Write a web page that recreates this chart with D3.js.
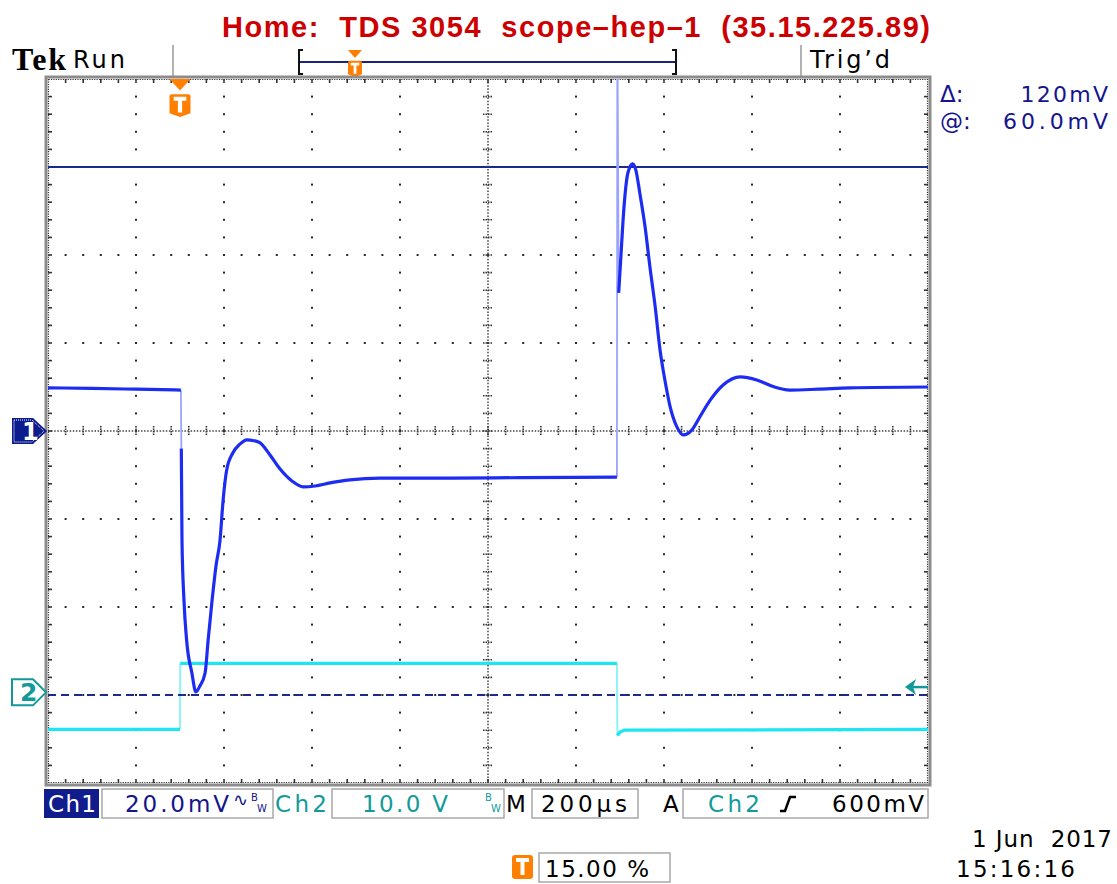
<!DOCTYPE html>
<html>
<head>
<meta charset="utf-8">
<script src="https://cdn.jsdelivr.net/npm/d3@7"></script>
<style>
body { margin: 0; background: #fff; }
svg { display: block; }
</style>
</head>
<body>
<div id="scope"></div>
<script>
// Timebase: microseconds from trigger, 200 us/div, trigger at 15% of record
var timeDomain = [-300, 1700];

// Ch1 (20.0 mV/div), points are [time us, mV]
var ch1Scale = 20;
var ch1Position = 0;
var ch1Before = [[-300, 9.8], [-200, 9.7], [-100, 9.5], [2, 9.3]];
var ch1Fall = [[2, 9.3], [3, -4.0]];
var ch1Mid = [[3, -4.0], [4.5, -24.8], [9, -38.4], [15, -47.5], [27, -55], [36, -59.3], [45, -58],
  [57, -55], [64, -47.5], [73, -38.4], [82, -30.5], [91, -24.8], [98, -15.7], [106, -8.9],
  [120, -5.0], [136, -3.0], [152, -2.0], [168, -2.2], [182, -2.7], [205, -5.5], [227, -8.6],
  [255, -11.4], [280, -12.7], [307, -12.5], [341, -11.8], [386, -11.1], [455, -10.7],
  [614, -10.7], [773, -10.6], [993, -10.5]];
var ch1Rise = [[993, -10.5], [994, 95], [997, 31.4]];
var ch1After = [[997, 31.4], [1002, 39.6], [1007, 48], [1015, 57], [1023, 60.1], [1029, 60.7],
  [1036, 59.3], [1045, 54.1], [1057, 46.4], [1068, 37.3], [1080, 28.2], [1091, 18.4],
  [1102, 11.6], [1114, 5.5], [1129, 1.0], [1144, -0.9], [1163, 0.2], [1182, 3.3], [1205, 7.0],
  [1235, 10.5], [1273, 12.3], [1311, 11.6], [1348, 10.1], [1386, 9.3], [1450, 9.5],
  [1523, 9.8], [1700, 10.0]];

// Ch2 (10.0 V/div), points are [time us, V]
var ch2Scale = 10;
var ch2Position = -2.97;
var ch2Before = [[-300, -4.2], [0, -4.2]];
var ch2Rise = [[0, -4.2], [0.5, 3.3]];
var ch2High = [[0.5, 3.3], [993, 3.3]];
var ch2Fall = [[993, 3.3], [994, -4.9]];
var ch2After = [[994, -4.9], [1000, -4.5], [1010, -4.3], [1700, -4.2]];

// H-bar cursors on ch1 (mV), trigger level on ch2 (V)
var cursorLevels = [60, -60];
var triggerLevel = 0.6;

// readout texts
var titleText = "Home:  TDS 3054  scope\u2013hep\u20131  (35.15.225.89)";
var cursorLabels = [["\u0394:", "120mV"], ["@:", "60.0mV"]];

var width = 1117, height = 884;
var grat = {left: 48, right: 928, top: 79, bottom: 783};

var svg = d3.select("#scope").append("svg")
  .attr("width", width)
  .attr("height", height);

svg.append("rect").attr("width", width).attr("height", height).attr("fill", "#fff");

var xScale = d3.scaleLinear().domain(timeDomain).range([grat.left, grat.right]);
var yScale = d3.scaleLinear().domain([-4, 4]).range([grat.bottom, grat.top]);
var xDiv = d3.scaleLinear().domain([0, 10]).range([grat.left, grat.right]);

function ch1Y(v) { return yScale(v / ch1Scale + ch1Position); }
function ch2Y(v) { return yScale(v / ch2Scale + ch2Position); }

var line1 = d3.line().x(function(d) { return xScale(d[0]); }).y(function(d) { return ch1Y(d[1]); });
var smooth1 = d3.line().curve(d3.curveMonotoneX)
  .x(function(d) { return xScale(d[0]); }).y(function(d) { return ch1Y(d[1]); });
var line2 = d3.line().x(function(d) { return xScale(d[0]); }).y(function(d) { return ch2Y(d[1]); });

function label(g, x, y, text, o) {
  o = o || {};
  var t = g.append("text")
    .attr("x", x).attr("y", y)
    .attr("fill", o.color || "#000")
    .attr("font-family", o.family || "'DejaVu Sans', sans-serif")
    .attr("font-size", o.size || 22)
    .attr("font-weight", o.weight || "normal")
    .attr("text-anchor", o.anchor || "start")
    .style("white-space", "pre")
    .text(text);
  if (o.len) t.attr("textLength", o.len).attr("lengthAdjust", "spacing");
  return t;
}

// ---- header ----
var head = svg.append("g");
label(head, 576, 37, titleText, {size: 29, weight: "bold", color: "#cc0000", anchor: "middle",
  family: "'Liberation Sans', Arial, sans-serif", len: 708});
label(head, 12, 70, "Tek", {size: 32, weight: "bold", family: "'Liberation Serif', serif", len: 54});
label(head, 73, 68, "Run", {size: 24, len: 52});
label(head, 810, 68, "Trig\u2019d", {size: 24, len: 80});

head.selectAll(".sep").data([173, 801]).enter().append("line")
  .attr("x1", function(d) { return d; }).attr("x2", function(d) { return d; })
  .attr("y1", 45).attr("y2", 77)
  .attr("stroke", "#999").attr("stroke-width", 1.5);

// record bar
head.append("line").attr("x1", 299).attr("x2", 676).attr("y1", 62).attr("y2", 62)
  .attr("stroke", "#1a237e").attr("stroke-width", 2);
head.append("path").attr("d", "M303,50 H299 V74 H303").attr("fill", "none").attr("stroke", "#111").attr("stroke-width", 2);
head.append("path").attr("d", "M672,50 H676 V74 H672").attr("fill", "none").attr("stroke", "#111").attr("stroke-width", 2);

function trigMarker(g, cx, top, w, h) {
  g.append("path")
    .attr("d", "M" + (cx - w / 2) + "," + top + " H" + (cx + w / 2) + " L" + cx + "," + (top + h * 0.3) + " Z")
    .attr("fill", "#ff8000");
  var sy = top + h * 0.4;
  g.append("path")
    .attr("d", "M" + (cx - w / 2) + "," + (sy + 2) + " Q" + (cx - w / 2) + "," + sy + " " + (cx - w / 2 + 2) + "," + sy +
      " H" + (cx + w / 2 - 2) + " Q" + (cx + w / 2) + "," + sy + " " + (cx + w / 2) + "," + (sy + 2) +
      " V" + (top + h * 0.9) + " L" + cx + "," + (top + h) + " L" + (cx - w / 2) + "," + (top + h * 0.9) + " Z")
    .attr("fill", "#ff8000");
  g.append("path")
    .attr("d", "M" + (cx - w * 0.3) + "," + (sy + h * 0.12) + " H" + (cx + w * 0.3) +
      " M" + cx + "," + (sy + h * 0.12) + " V" + (top + h * 0.88))
    .attr("stroke", "#fff").attr("stroke-width", w * 0.2).attr("fill", "none");
}
trigMarker(head, 355, 50, 14, 27);

// ---- graticule ----
var grid = svg.append("g");
var dots = [];
d3.range(1, 10).filter(function(k) { return k != 5; }).forEach(function(k) {
  d3.range(1, 40).forEach(function(m) { dots.push([xDiv(k), yScale(-4 + m * 0.2)]); });
});
d3.range(-3, 4).filter(function(j) { return j != 0; }).forEach(function(j) {
  d3.range(1, 50).forEach(function(n) { dots.push([xDiv(n * 0.2), yScale(j)]); });
});
grid.selectAll(".dot").data(dots).enter().append("rect")
  .attr("x", function(d) { return d[0] - 1; })
  .attr("y", function(d) { return d[1] - 1; })
  .attr("width", 2).attr("height", 2)
  .attr("fill", "#2a2a2a");

// center axes
var x0 = xDiv(5), y0 = yScale(0);
grid.append("line").attr("x1", grat.left).attr("x2", grat.right).attr("y1", y0).attr("y2", y0)
  .attr("stroke", "#444").attr("stroke-width", 1.5).attr("stroke-dasharray", "1.5,1.6");
grid.append("line").attr("x1", x0).attr("x2", x0).attr("y1", grat.top).attr("y2", grat.bottom)
  .attr("stroke", "#444").attr("stroke-width", 1.5).attr("stroke-dasharray", "1.5,1.6");

var xTicks = d3.range(1, 50).map(function(n) { return xDiv(n * 0.2); });
var yTicks = d3.range(1, 40).map(function(m) { return yScale(-4 + m * 0.2); });

grid.selectAll(".hx").data(xTicks).enter().append("line")
  .attr("x1", function(d) { return d; }).attr("x2", function(d) { return d; })
  .attr("y1", y0 - 5).attr("y2", y0 + 5)
  .attr("stroke", "#333").attr("stroke-width", 1.6).attr("stroke-dasharray", "1.5,1");
grid.selectAll(".vy").data(yTicks).enter().append("line")
  .attr("y1", function(d) { return d; }).attr("y2", function(d) { return d; })
  .attr("x1", x0 - 5).attr("x2", x0 + 5)
  .attr("stroke", "#333").attr("stroke-width", 1.6).attr("stroke-dasharray", "1.5,1");

// frame with edge ticks
grid.append("rect")
  .attr("x", grat.left - 2).attr("y", grat.top - 2)
  .attr("width", grat.right - grat.left + 4).attr("height", grat.bottom - grat.top + 4)
  .attr("fill", "none").attr("stroke", "#8c8c8c").attr("stroke-width", 3);
grid.append("rect")
  .attr("x", grat.left + 0.5).attr("y", grat.top + 0.5)
  .attr("width", grat.right - grat.left - 1).attr("height", grat.bottom - grat.top - 1)
  .attr("fill", "none").attr("stroke", "#333").attr("stroke-width", 1.2).attr("stroke-dasharray", "1.2,1.2");
var edge = grid.append("g").attr("stroke", "#333").attr("stroke-width", 1.6);
xTicks.forEach(function(x) {
  edge.append("line").attr("x1", x).attr("x2", x).attr("y1", grat.top).attr("y2", grat.top + 4);
  edge.append("line").attr("x1", x).attr("x2", x).attr("y1", grat.bottom).attr("y2", grat.bottom - 4);
});
yTicks.forEach(function(y) {
  edge.append("line").attr("y1", y).attr("y2", y).attr("x1", grat.left).attr("x2", grat.left + 4);
  edge.append("line").attr("y1", y).attr("y2", y).attr("x1", grat.right).attr("x2", grat.right - 4);
});

// ---- traces ----
svg.append("defs").append("clipPath").attr("id", "clip")
  .append("rect")
  .attr("x", grat.left).attr("y", grat.top)
  .attr("width", grat.right - grat.left).attr("height", grat.bottom - grat.top);

var traces = svg.append("g").attr("clip-path", "url(#clip)");

// ch2
[ch2Rise, ch2Fall].forEach(function(seg) {
  traces.append("path").attr("d", line2(seg)).attr("fill", "none")
    .attr("stroke", "#8ff2f6").attr("stroke-width", 2);
});
[ch2Before, ch2High, ch2After].forEach(function(seg) {
  traces.append("path").attr("d", line2(seg)).attr("fill", "none")
    .attr("stroke", "#1ee6f0").attr("stroke-width", 3.2);
});

// cursors
traces.append("line")
  .attr("x1", grat.left).attr("x2", grat.right)
  .attr("y1", ch1Y(cursorLevels[0])).attr("y2", ch1Y(cursorLevels[0]))
  .attr("stroke", "#1c2a8e").attr("stroke-width", 2);
traces.append("line")
  .attr("x1", grat.left).attr("x2", grat.right)
  .attr("y1", ch1Y(cursorLevels[1])).attr("y2", ch1Y(cursorLevels[1]))
  .attr("stroke", "#1c2a8e").attr("stroke-width", 2).attr("stroke-dasharray", "8,5");

// ch1
[ch1Fall, ch1Rise].forEach(function(seg) {
  traces.append("path").attr("d", line1(seg)).attr("fill", "none")
    .attr("stroke", "#9aa4ff").attr("stroke-width", 1.8);
});
[ch1Before, ch1Mid, ch1After].forEach(function(seg) {
  traces.append("path").attr("d", smooth1(seg)).attr("fill", "none")
    .attr("stroke", "#1d2cf2").attr("stroke-width", 3.2).attr("stroke-linejoin", "round");
});

// trigger position marker
trigMarker(svg, xScale(0), grat.top, 21, 38);

// trigger level arrow on right edge
var ty = ch2Y(triggerLevel);
svg.append("path")
  .attr("d", "M905," + ty + " L916," + (ty - 8) + " L913," + ty + " L916," + (ty + 8) + " Z")
  .attr("fill", "#129a9a");
svg.append("line").attr("x1", 912).attr("x2", grat.right).attr("y1", ty).attr("y2", ty)
  .attr("stroke", "#129a9a").attr("stroke-width", 2.5);

// channel ground markers
var m1 = ch1Y(0), m2 = ch2Y(0);
svg.append("path")
  .attr("d", "M12," + (m1 - 13) + " H33 L47," + m1 + " L33," + (m1 + 13) + " H12 Z")
  .attr("fill", "#0c1c8c");
svg.append("path")
  .attr("d", "M14," + (m1 - 11) + " H32 L44," + m1 + " L32," + (m1 + 11) + " H14 Z")
  .attr("fill", "none").attr("stroke", "#fff").attr("stroke-width", 1).attr("stroke-dasharray", "1,1");
label(svg, 22, m1 + 9, "1", {size: 24, weight: "bold", color: "#fff"});

svg.append("path")
  .attr("d", "M12," + (m2 - 13) + " H33 L46," + m2 + " L33," + (m2 + 13) + " H12 Z")
  .attr("fill", "#fff").attr("stroke", "#129a9a").attr("stroke-width", 2);
label(svg, 20, m2 + 9, "2", {size: 25, weight: "bold", color: "#129a9a"});

// ---- cursor readouts ----
var ro = svg.append("g");
cursorLabels.forEach(function(c, i) {
  var yy = 102 + i * 27;
  label(ro, 940, yy, c[0], {size: 23, color: "#14148c"});
  label(ro, 1108, yy, c[1], {size: 22, color: "#14148c", anchor: "end", len: c[1].length * 17.5});
});

// ---- status bar ----
var bar = svg.append("g");
var navy = "#14148c", teal = "#129a9a";
function box(x, w) {
  bar.append("rect").attr("x", x).attr("y", 789).attr("width", w).attr("height", 29)
    .attr("fill", "#fff").attr("stroke", "#a8a8a8").attr("stroke-width", 1.5);
}
bar.append("rect").attr("x", 44).attr("y", 789).attr("width", 55).attr("height", 29).attr("fill", "#101c8c");
label(bar, 48, 812, "Ch1", {size: 23, color: "#fff", len: 48});
box(102, 171);
label(bar, 125, 812, "20.0mV", {size: 23, color: navy, len: 104});
label(bar, 233, 806, "\u223f", {size: 18, color: navy});
label(bar, 251, 801, "B", {size: 10, color: navy});
label(bar, 257, 812, "W", {size: 10, color: navy});
label(bar, 275, 812, "Ch2", {size: 23, color: teal, len: 52});
box(332, 172);
label(bar, 362, 812, "10.0 V", {size: 23, color: teal, len: 86});
label(bar, 485, 801, "B", {size: 10, color: teal});
label(bar, 491, 812, "W", {size: 10, color: teal});
label(bar, 506, 812, "M", {size: 23, color: "#000", len: 21});
box(532, 106);
label(bar, 541, 812, "200\u00b5s", {size: 23, color: "#000", len: 86});
label(bar, 663, 812, "A", {size: 23, color: "#000", len: 17});
box(683, 245);
label(bar, 708, 812, "Ch2", {size: 23, color: teal, len: 52});
bar.append("path").attr("d", "M780,811 H785 L790,797 H796").attr("fill", "none")
  .attr("stroke", "#000").attr("stroke-width", 2.5);
label(bar, 924, 812, "600mV", {size: 23, color: "#000", anchor: "end", len: 92});

// trigger position and date
var foot = svg.append("g");
foot.append("rect").attr("x", 512).attr("y", 855).attr("width", 21).attr("height", 24).attr("rx", 3)
  .attr("fill", "#ff8000");
foot.append("path").attr("d", "M516,860 H529 M522.5,860 V875").attr("stroke", "#fff").attr("stroke-width", 4);
foot.append("rect").attr("x", 539).attr("y", 853).attr("width", 131).attr("height", 29)
  .attr("fill", "#fff").attr("stroke", "#a8a8a8").attr("stroke-width", 1.5);
label(foot, 545, 877, "15.00 %", {size: 23, color: "#000", len: 104});
label(foot, 972, 847, "1 Jun  2017", {size: 23, color: "#000", len: 140});
label(foot, 956, 877, "15:16:16", {size: 23, color: "#000", len: 119});
</script>
</body>
</html>
